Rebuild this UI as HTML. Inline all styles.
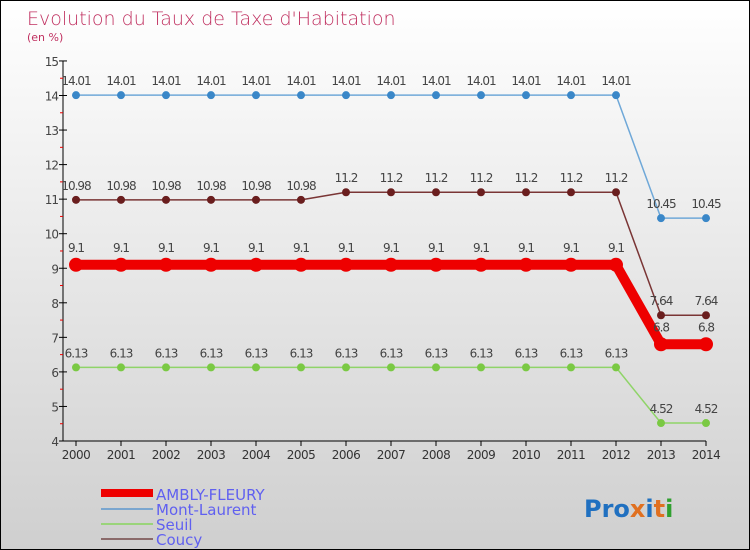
<!DOCTYPE html>
<html><head><meta charset="utf-8"><style>
body{margin:0}
#c{width:750px;height:550px;position:relative;box-sizing:border-box;border:1px solid #000;background:linear-gradient(#fff,#cfcfcf);font-family:"DejaVu Sans","Liberation Sans",sans-serif;overflow:hidden}
</style></head><body>
<div id="c">
<svg id="s" width="750" height="550" style="position:absolute;left:0;top:0">
<text x="26" y="24" font-size="19" fill="#c03060" font-weight="300">Evolution du Taux de Taxe d'Habitation</text>
<text x="26" y="40" font-size="11" fill="#c03060">(en %)</text>
<g id="g"></g>
<g>
<rect x="100" y="488" width="52" height="8" fill="#e00"/>
<text x="155" y="499" font-size="15" fill="#6060f0">AMBLY-FLEURY</text>
<rect x="100" y="507" width="52" height="2" fill="#7aa6cf"/>
<text x="155" y="514" font-size="15" fill="#6060f0">Mont-Laurent</text>
<rect x="100" y="522" width="52" height="2" fill="#9ad47a"/>
<text x="155" y="529" font-size="15" fill="#6060f0">Seuil</text>
<rect x="100" y="537" width="52" height="2" fill="#8a6a6a"/>
<text x="155" y="544" font-size="15" fill="#6060f0">Coucy</text>
</g>
<text x="583" y="516" font-size="24" font-weight="bold"><tspan fill="#2070c0">Pro</tspan><tspan fill="#e07020">x</tspan><tspan fill="#2070c0">i</tspan><tspan fill="#e07020">t</tspan><tspan fill="#30a030">i</tspan></text>
</svg>
</div>
<script>
const years=[2000,2001,2002,2003,2004,2005,2006,2007,2008,2009,2010,2011,2012,2013,2014];
const yTicks=[4,5,6,7,8,9,10,11,12,13,14,15];
const ambly=[9.1,9.1,9.1,9.1,9.1,9.1,9.1,9.1,9.1,9.1,9.1,9.1,9.1,6.8,6.8];
const mont=[14.01,14.01,14.01,14.01,14.01,14.01,14.01,14.01,14.01,14.01,14.01,14.01,14.01,10.45,10.45];
const seuil=[6.13,6.13,6.13,6.13,6.13,6.13,6.13,6.13,6.13,6.13,6.13,6.13,6.13,4.52,4.52];
const coucy=[10.98,10.98,10.98,10.98,10.98,10.98,11.2,11.2,11.2,11.2,11.2,11.2,11.2,7.64,7.64];
const NS='http://www.w3.org/2000/svg',g=document.getElementById('g');
const X=i=>75+i*45, Y=v=>440-(v-4)*34.55;
function el(t,a){const e=document.createElementNS(NS,t);for(const k in a)e.setAttribute(k,a[k]);g.appendChild(e);return e;}
let e=el('line',{x1:62,y1:Y(15),x2:62,y2:440,stroke:'#000'});


e=el('line',{x1:62,y1:440,x2:X(14),y2:440,stroke:'#000'});


yTicks.forEach(v=>{
 el('line',{x1:58,x2:66,y1:Y(v),y2:Y(v),stroke:'#000'});
 if(v<15)el('line',{x1:59,x2:62,y1:Y(v+0.5),y2:Y(v+0.5),stroke:'#e00'});
 const t=el('text',{x:57,y:Y(v)+5,'font-size':12,fill:'#444','text-anchor':'end','letter-spacing':'-1'});t.textContent=v;
 
 
});
years.forEach((y,i)=>{
 el('line',{x1:X(i),x2:X(i),y1:440,y2:445,stroke:'#000'});
 const t=el('text',{x:X(i),y:458,'font-size':12,fill:'#333','text-anchor':'middle','letter-spacing':'-0.5'});t.textContent=y;
 
 
});
function series(d,name,col,w,r,fill){
 const p=el('polyline',{points:d.map((v,i)=>X(i)+','+Y(v)).join(' '),fill:'none',stroke:col,'stroke-width':w,'stroke-linejoin':'round'});
 
 
 d.forEach((v,i)=>{
  const c=el('circle',{cx:X(i),cy:Y(v),r:r,fill:fill});
  
  
  const t=el('text',{x:X(i),y:Y(v)-(r+6),'font-size':12,fill:'#444','text-anchor':'middle','letter-spacing':'-1'});
  t.textContent=v;
  
  
 });
}
series(seuil,'seuil','#8fd468',1.5,4,'#7ac943');
series(coucy,'coucy','#7a3535',1.5,4,'#6a1e1e');
series(mont,'mont-laurent','#6fa8d8',1.5,4,'#3a87c8');
series(ambly,'ambly-fleury','#ee0000',10,7,'#ee0000');
</script>
</body></html>
